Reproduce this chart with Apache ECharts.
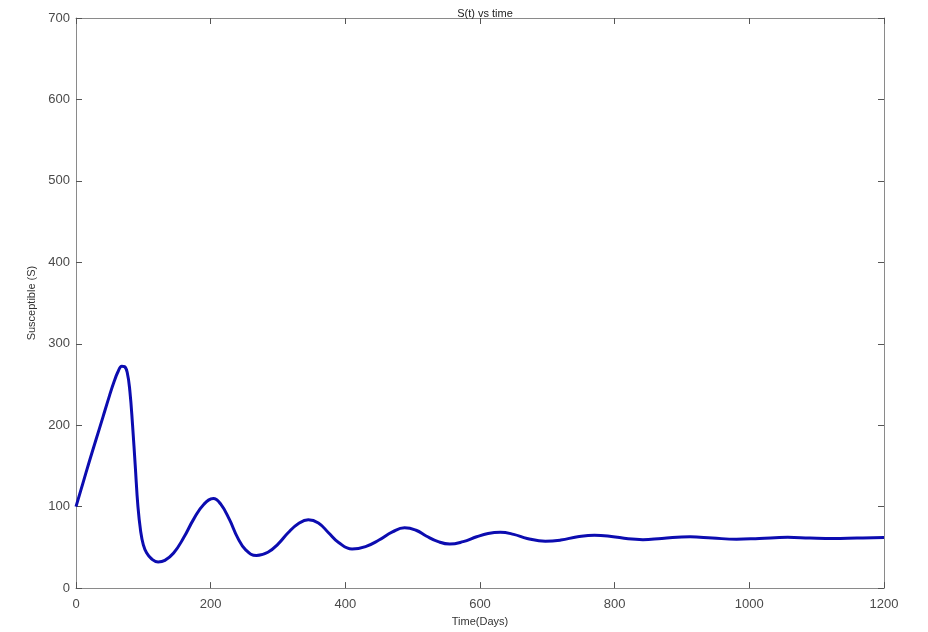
<!DOCTYPE html>
<html>
<head>
<meta charset="utf-8">
<script src="https://cdn.jsdelivr.net/npm/echarts@6/dist/echarts.min.js"></script>
<style>html,body{margin:0;padding:0;background:#fff}#c{width:928px;height:632px}</style>
</head>
<body>
<div id="c"></div>
<script>
const days = [0,10,20,30,40,50,56,62,68,72,76,80,84,88,92,96,100,105,112,122,132,145,160,175,190,204,215,228,240,252,268,285,300,315,330,345,360,375,390,410,430,450,470,488,505,520,538,555,575,595,612,630,650,670,697,720,745,770,795,820,842,870,912,945,981,1015,1057,1090,1125,1160,1200];
const susceptible = [100,128,156,183,210,237,252,265,272.5,272,265,242,200,150,100,70,53,43,36,32,34,43,62,85,103,110,103,84,62,47,40,44,54,68,79,84,80,68,56,48,51,59,69,74,71,64,57,54,57,63,67,68.5,66,61,57.5,59,63,65,63.5,60.5,59.5,61,63,61.5,60,61,62.3,61.5,61,61.5,62];
const xTicks = [0,200,400,600,800,1000,1200];
const yTicks = [0,100,200,300,400,500,600,700];

const pts = days.map((d,i)=>[d, susceptible[i]]);
const axisColor = '#8a8a8a';
const font = 'Liberation Sans, Arial, sans-serif';
const labelStyle = {color:'#4a4a4a', fontSize:13, fontFamily:font, formatter:v=>String(v)};
const chart = echarts.init(document.getElementById('c'), null, {renderer:'canvas'});
chart.setOption({
  animation:false,
  backgroundColor:'#fff',
  title:{text:'S(t) vs time', left:480, textAlign:'center', top:3,
    textStyle:{fontSize:11, fontWeight:'normal', color:'#222', fontFamily:font}},
  grid:{left:76, right:44, top:18, bottom:41, containLabel:false},
  xAxis:[{type:'value', min:xTicks[0], max:xTicks[xTicks.length-1], interval:200,
    name:'Time(Days)', nameLocation:'middle', nameGap:26,
    nameTextStyle:{color:'#333', fontSize:11, fontFamily:font},
    axisLine:{show:true, onZero:false, lineStyle:{color:axisColor, width:1}},
    axisTick:{show:true, inside:true, length:6, lineStyle:{color:'#555'}},
    axisLabel:Object.assign({margin:10}, labelStyle),
    splitLine:{show:false}},
   {type:'value', position:'top', min:xTicks[0], max:xTicks[xTicks.length-1], interval:200,
    axisLine:{show:true, onZero:false, lineStyle:{color:axisColor, width:1}},
    axisTick:{show:true, inside:true, length:6, lineStyle:{color:'#555'}},
    axisLabel:{show:false}, splitLine:{show:false}}],
  yAxis:[{type:'value', min:yTicks[0], max:yTicks[yTicks.length-1], interval:100,
    name:'Susceptible (S)', nameLocation:'middle', nameGap:31,
    nameTextStyle:{color:'#333', fontSize:11, fontFamily:font},
    axisLine:{show:true, onZero:false, lineStyle:{color:axisColor, width:1}},
    axisTick:{show:true, inside:true, length:6, lineStyle:{color:'#555'}},
    axisLabel:Object.assign({margin:6}, labelStyle),
    splitLine:{show:false}},
   {type:'value', position:'right', min:yTicks[0], max:yTicks[yTicks.length-1], interval:100,
    axisLine:{show:true, onZero:false, lineStyle:{color:axisColor, width:1}},
    axisTick:{show:true, inside:true, length:6, lineStyle:{color:'#555'}},
    axisLabel:{show:false}, splitLine:{show:false}}],
  series:[{type:'line', data:pts, xAxisIndex:0, yAxisIndex:0, smooth:0.45,
    showSymbol:false, symbol:'none', lineStyle:{color:'#0c0cb0', width:3}}]
});
</script>
</body>
</html>
